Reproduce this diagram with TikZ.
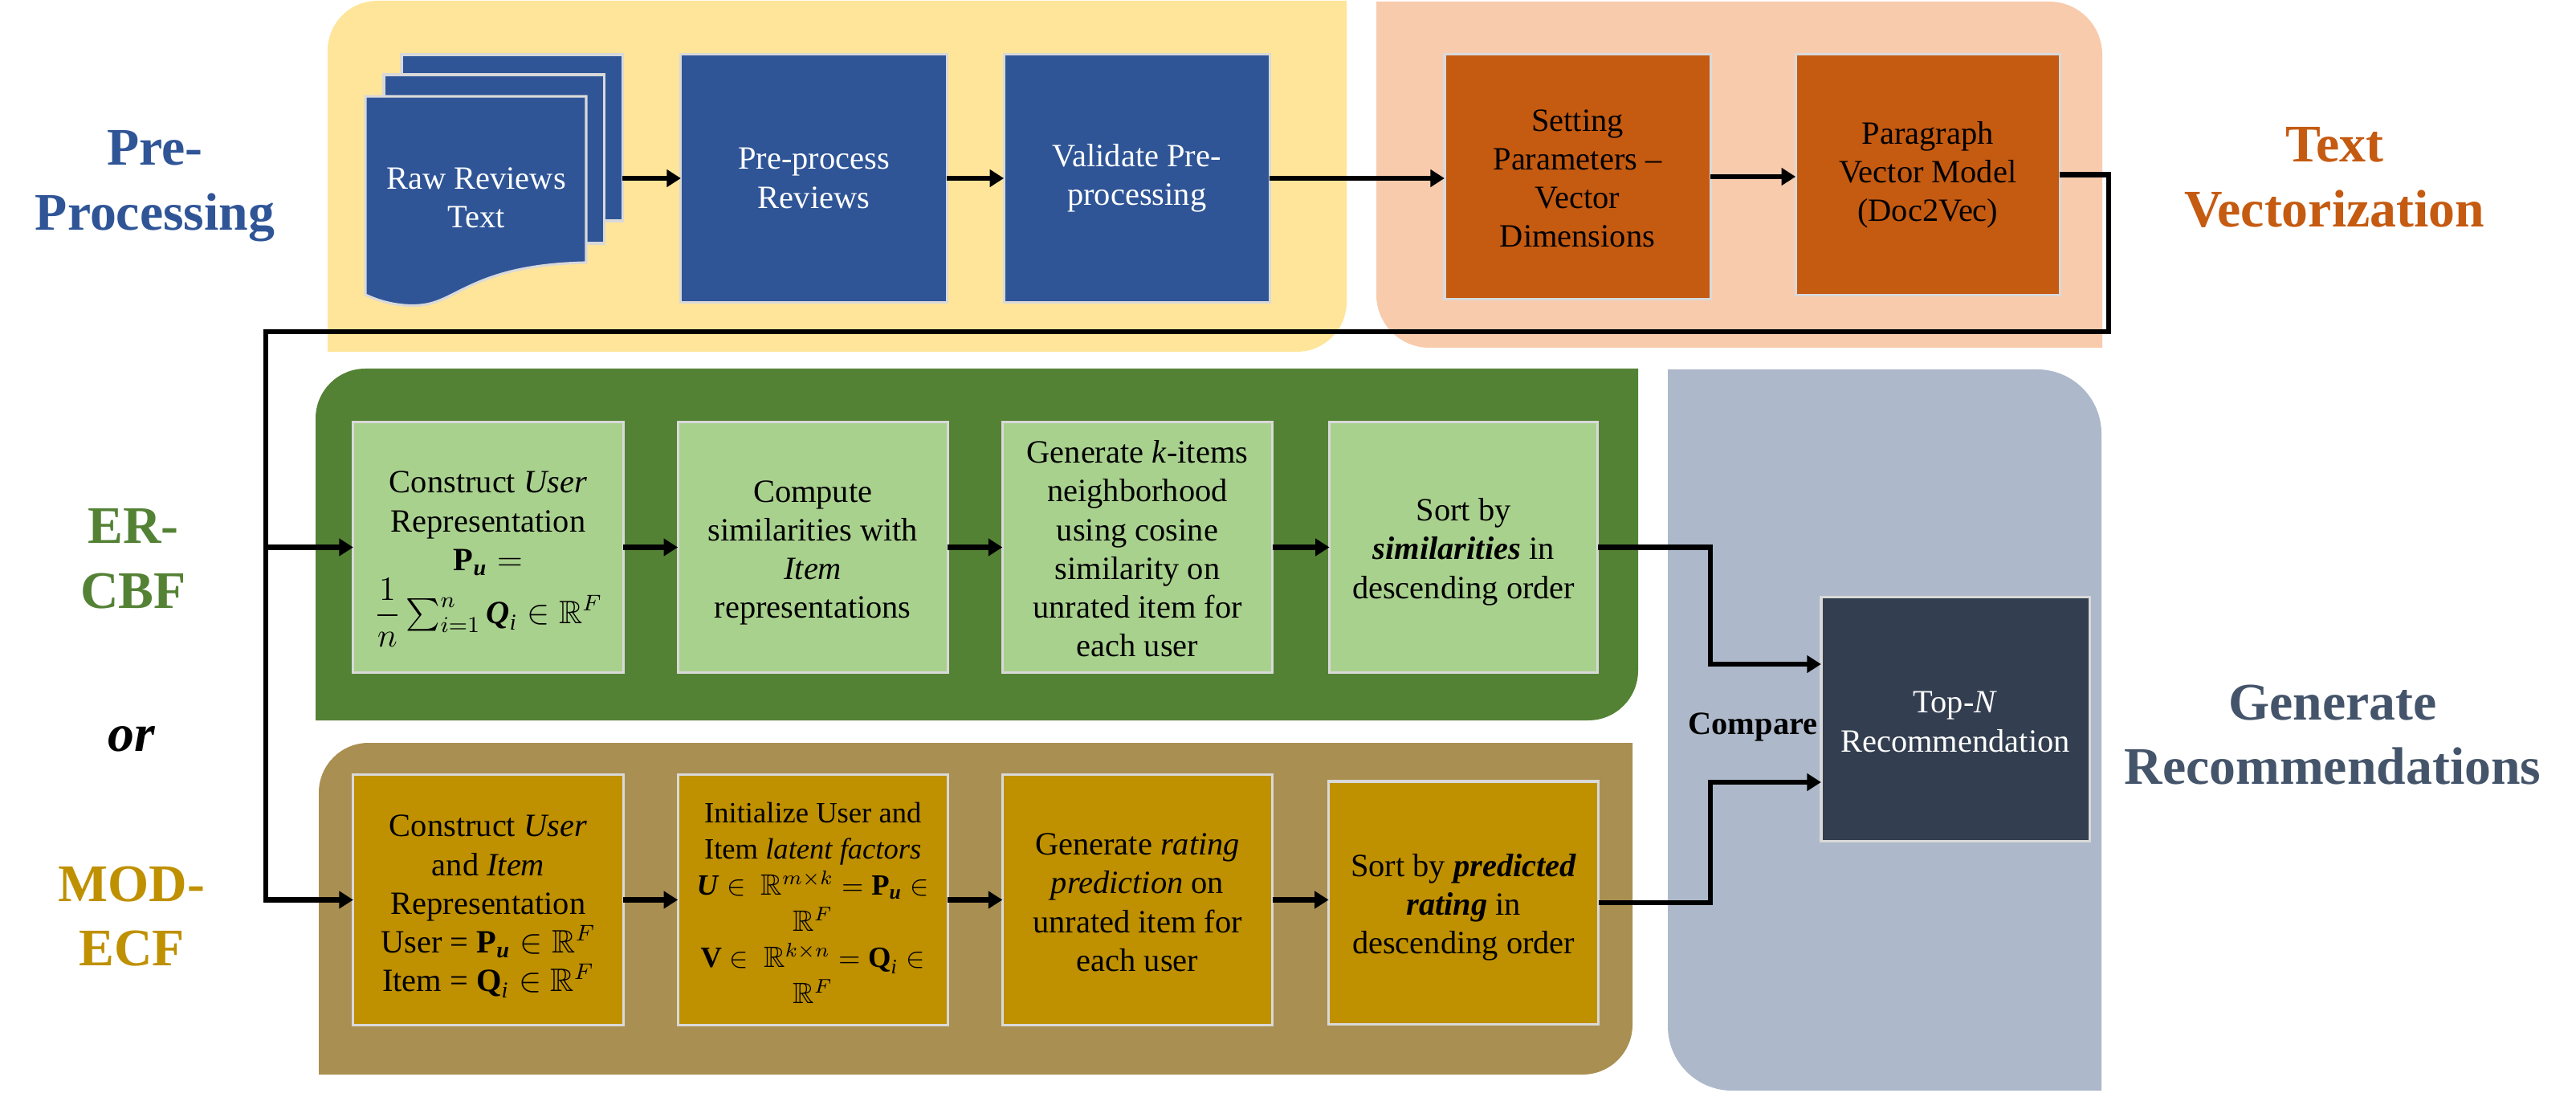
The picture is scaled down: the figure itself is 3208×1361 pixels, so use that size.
\documentclass[tikz,border=0pt]{standalone}
\usepackage{amsmath}
\usepackage{amssymb}
\usepackage{fontspec}
\setmainfont{Liberation Serif}
\usepackage{tikz}
\usetikzlibrary{positioning}
\usetikzlibrary{arrows.meta}

\definecolor{prepanel}{HTML}{FFE599}
\definecolor{prebox}{HTML}{2F5597}
\definecolor{vecpanel}{HTML}{F8CBAD}
\definecolor{vecbox}{HTML}{C55A11}
\definecolor{erpanel}{HTML}{548235}
\definecolor{erbox}{HTML}{A9D18E}
\definecolor{modpanel}{HTML}{A98F52}
\definecolor{modbox}{HTML}{BF9000}
\definecolor{recpanel}{HTML}{ADB9CA}
\definecolor{recbox}{HTML}{333F50}
\definecolor{rectext}{HTML}{44546A}
\definecolor{boxline}{HTML}{D9D9D9}

% panel with two rounded corners: colour, left, top, right, bottom
\newcommand{\panelA}[5]{\fill[#1] (#2,{(#3+#5)/2}) [rounded corners=0.62cm] -- (#2,#3) [sharp corners] -- (#4,#3) [rounded corners=0.62cm] -- (#4,#5) [sharp corners] -- (#2,#5) -- cycle;}
\newcommand{\panelB}[6]{\fill[#1] (#2,{(#3+#5)/2}) [sharp corners] -- (#2,#3) [rounded corners=#6] -- (#4,#3) [sharp corners] -- (#4,#5) [rounded corners=#6] -- (#2,#5) [sharp corners] -- cycle;}
% taller first line, moves the text of a box down
\newcommand{\dropline}[1]{\rule{0pt}{#1pt}}

\begin{document}
\begin{tikzpicture}[
  x=0.01cm, y=-0.01cm,
  node distance=0.68cm,
  stepbox/.style={
    draw=boxline, line width=0.9pt, outer sep=0pt, inner sep=1pt,
    align=center, minimum width=3.36cm, minimum height=3.11cm,
    font=\fontsize{11.5}{13.7}\selectfont
  },
  prestep/.style={stepbox, fill=prebox, text=white, minimum width=3.31cm, minimum height=3.08cm},
  vecstep/.style={stepbox, fill=vecbox, text=black, minimum width=3.31cm},
  erstep/.style={stepbox, fill=erbox},
  modstep/.style={stepbox, fill=modbox},
  sheet/.style={draw=boxline, line width=0.9pt, fill=prebox, outer sep=0pt},
  heading/.style={align=center, font=\fontsize{18.7}{23}\selectfont\bfseries},
  arrow/.style={-{Triangle[length=5pt,width=6pt]}, line width=1.8pt}
]
\useasboundingbox (0,0) rectangle (3208,1361);

% Panels
\panelA{prepanel}{408}{1}{1677}{438}
\panelB{vecpanel}{1714}{2}{2618}{433}{0.66cm}
\panelA{erpanel}{393}{459}{2040}{897}
\panelA{modpanel}{397}{925}{2033}{1338}
\panelB{recpanel}{2077}{460}{2617}{1358}{0.8cm}

% Headings
\node[heading, text=prebox] (preh) at (193,232) {Pre-\\Processing};
\node[heading, text=vecbox] (vech) at (2907,221) {Text\\Vectorization};
\node[heading, text=erpanel] (erh) at (166,696) {ER-\\CBF};
\node[heading, text=black, font=\fontsize{18.7}{23}\selectfont\bfseries\itshape] (orh) at (164,920) {or};
\node[heading, text=modbox] (modh) at (164,1141) {MOD-\\ECF};
\node[heading, text=rectext] (rech) at (2905,915) {Generate\\Recommendations};

% Raw reviews stack
\node[sheet, minimum width=2.75cm, minimum height=2.07cm] (rawback) at (637.5,171.5) {};
\node[sheet, minimum width=2.74cm, minimum height=2.10cm] (rawmid) at (615,198) {};
\draw[sheet] (455,120) -- (730,120) -- (730,327)
  .. controls (590,330) and (570,376) .. (524,380)
  .. controls (503,382) and (478,378) .. (455,367) -- cycle;
\node[align=center, text=white, font=\fontsize{11.5}{13.7}\selectfont] (raw) at (593,246) {Raw Reviews\\Text};

% Nodes
\node[prestep] (prep) at (1013.5,222) {Pre-process\\Reviews};
\node[prestep, right=0.71cm of prep] (valid) {Validate Pre-\\processing};
\node[vecstep, minimum height=3.04cm] (setp) at (1964.5,220) {\dropline{9}Setting\\Parameters --\\Vector\\Dimensions};
\node[vecstep, minimum width=3.29cm, minimum height=2.99cm, right=1.06cm of setp, yshift=0.025cm] (para) {Paragraph\\Vector Model\\(Doc2Vec)};

\node[erstep] (er1) at (608,681.5) {\dropline{11}Construct \textit{User}\\Representation\\$\textbf{P}_{\textbf{\textit{u}}}=$\\$\smash[b]{\dfrac{1}{n}}\sum_{i=1}^{n}\textbf{\textit{Q}}_{\textit{i}}\in\mathbb{R}^{F}$};
\node[erstep, right=of er1] (er2) {\dropline{11.5}Compute\\similarities with\\\textit{Item}\\representations};
\node[erstep, right=of er2] (er3) {\dropline{9}Generate \textit{k}-items\\neighborhood\\using cosine\\similarity on\\unrated item for\\each user};
\node[erstep, minimum width=3.34cm, right=0.71cm of er3] (er4) {\dropline{11.2}Sort by\\\textbf{\textit{similarities}} in\\descending order};

\node[modstep] (mod1) at (608,1120.5) {\dropline{12.5}Construct \textit{User}\\and \textit{Item}\\Representation\\User = $\textbf{P}_{\textbf{\textit{u}}}\in\mathbb{R}^{F}$\\Item = $\textbf{Q}_{\textit{i}}\in\mathbb{R}^{F}$};
\node[modstep, right=of mod1, font=\fontsize{10.4}{12.8}\selectfont] (mod2) {\dropline{9.5}Initialize User and\\Item \textit{latent factors}\\$\textbf{\textit{U}}\in\ \mathbb{R}^{m\times k}=\textbf{P}_{\textbf{\textit{u}}}\in$\\$\mathbb{R}^{F}$\\$\textbf{V}\in\ \mathbb{R}^{k\times n}=\textbf{Q}_{\textit{i}}\in$\\$\mathbb{R}^{F}$};
\node[modstep, right=of mod2] (mod3) {\dropline{9.5}Generate \textit{rating}\\\textit{prediction} on\\unrated item for\\each user};
\node[modstep, minimum width=3.36cm, minimum height=3.02cm, right=0.70cm of mod3, yshift=-0.035cm] (mod4) {\dropline{11.2}Sort by \textbf{\textit{predicted}}\\\textbf{\textit{rating}} in\\descending order};

\node[stepbox, fill=recbox, text=white, minimum width=3.34cm, minimum height=3.03cm] (top) at (2435,895.5) {\dropline{9.5}Top-\textit{N}\\Recommendation};
\node[font=\fontsize{11.5}{13.7}\selectfont\bfseries] (cmp) at (2183,905) {Compare};

\coordinate (busright) at (2626,413);
\coordinate (busleft) at (331,413);
\coordinate (cmpup) at (2130,827);
\coordinate (cmpdown) at (2130,974);

% Arrows
\draw[arrow] (rawback.east |- prep) -- (prep);
\draw[arrow] (prep) -- (valid);
\draw[arrow] (valid) -- (valid -| setp.west);
\draw[arrow] (setp) -- (setp -| para.west);
\draw[arrow] (para) -| (busright) -- (busleft) |- (mod1);
\draw[arrow] (busleft |- er1) -- (er1);
\draw[arrow] (er1) -- (er2);
\draw[arrow] (er2) -- (er3);
\draw[arrow] (er3) -- (er4);
\draw[arrow] (mod1) -- (mod2);
\draw[arrow] (mod2) -- (mod3);
\draw[arrow] (mod3) -- (mod3 -| mod4.west);
\draw[arrow] (er4) -| (cmpup) -- (cmpup -| top.west);
\draw[arrow] (mod4) -| (cmpdown) -- (cmpdown -| top.west);
\end{tikzpicture}
\end{document}
